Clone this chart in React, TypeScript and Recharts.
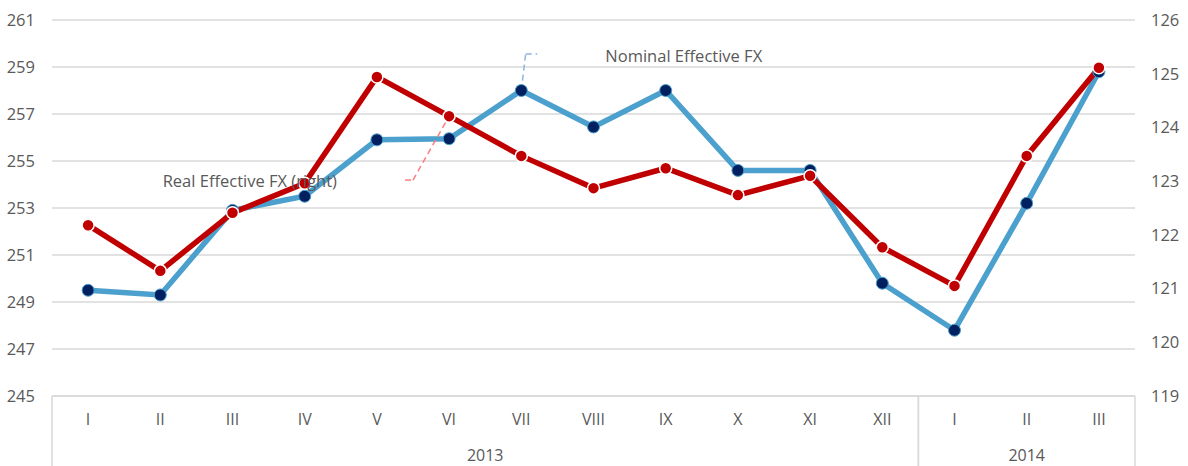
import React from "react";
import {
  LineChart,
  Line,
  XAxis,
  YAxis,
  CartesianGrid,
  ReferenceLine,
  ReferenceDot,
  Label,
} from "recharts";

const months = ["I", "II", "III", "IV", "V", "VI", "VII", "VIII", "IX", "X", "XI", "XII", "I", "II", "III"];
const years = ["2013", "2013", "2013", "2013", "2013", "2013", "2013", "2013", "2013", "2013", "2013", "2013", "2014", "2014", "2014"];
const nominalFx = [249.5, 249.3, 252.9, 253.5, 255.9, 255.95, 258.0, 256.45, 258.0, 254.6, 254.6, 249.8, 247.8, 253.2, 258.8];
const realFx = [122.18, 121.33, 122.41, 122.96, 124.94, 124.21, 123.47, 122.87, 123.24, 122.74, 123.1, 121.77, 121.05, 123.47, 125.11];
const leftTicks = [245, 247, 249, 251, 253, 255, 257, 259, 261];
const rightTicks = [119, 120, 121, 122, 123, 124, 125, 126];

const data = months.map((m, i) => ({
  key: `${years[i]}-${m}`,
  month: m,
  year: years[i],
  idx: i,
  nominal: nominalFx[i],
  real: realFx[i],
}));

const FONT = "'Open Sans', sans-serif";
const TEXT = "#595959";
const GRID = "#d9d9d9";
const BAND = (1135 - 52) / months.length;

const MonthTick = (props: any) => {
  const { x, y, index } = props;
  const i = index as number;
  const first = i === 0 || years[i] !== years[i - 1];
  const last = i === months.length - 1 || years[i] !== years[i + 1];
  // year label sits in the middle of its group
  const group = years.map((yy, k) => (yy === years[i] ? k : -1)).filter((k) => k >= 0);
  const mid = (group[0] + group[group.length - 1]) / 2;
  const showYear = i === Math.floor(mid);
  const yearX = x + (mid - i) * BAND;
  return (
    <g>
      <text x={x} y={y + 29} textAnchor="middle" fill={TEXT} fontSize={16} fontFamily={FONT}>
        {months[i]}
      </text>
      {first && <line x1={x - BAND / 2} x2={x - BAND / 2} y1={y} y2={y + 70} stroke={GRID} strokeWidth={1.5} />}
      {last && <line x1={x + BAND / 2} x2={x + BAND / 2} y1={y} y2={y + 70} stroke={GRID} strokeWidth={1.5} />}
      {showYear && (
        <text x={yearX} y={y + 65} textAnchor="middle" fill={TEXT} fontSize={16} fontFamily={FONT}>
          {years[i]}
        </text>
      )}
    </g>
  );
};

const App: React.FC = () => {
  return (
    <div style={{ position: "absolute", left: 0, top: 0, background: "#fff" }}>
      <LineChart width={1188} height={466} data={data} margin={{ top: 20, right: 0, left: 0, bottom: 0 }}>
        <CartesianGrid vertical={false} stroke={GRID} strokeWidth={1.5} yAxisId="left" />
        <XAxis
          dataKey="key"
          xAxisId="cat"
          height={70}
          interval={0}
          padding={{ left: BAND / 2, right: BAND / 2 }}
          tickLine={false}
          tickSize={0}
          tickMargin={0}
          axisLine={{ stroke: GRID, strokeWidth: 1.5 }}
          tick={<MonthTick />}
        />
        <XAxis dataKey="idx" xAxisId="num" type="number" domain={[-0.5, months.length - 0.5]} hide />
        <YAxis
          yAxisId="left"
          width={52}
          domain={[245, 261]}
          ticks={leftTicks}
          axisLine={false}
          tickLine={false}
          tickSize={0}
          tickMargin={17}
          tick={{ fill: TEXT, fontSize: 16.5, fontFamily: FONT }}
        />
        <YAxis
          yAxisId="right"
          orientation="right"
          width={53}
          domain={[119, 126]}
          ticks={rightTicks}
          axisLine={false}
          tickLine={false}
          tickSize={0}
          tickMargin={16}
          tick={{ fill: TEXT, fontSize: 16.5, fontFamily: FONT, textAnchor: "start" }}
        />
        <Line
          xAxisId="cat"
          yAxisId="left"
          dataKey="nominal"
          stroke="#4ba0cd"
          strokeWidth={5.5}
          dot={{ r: 6, fill: "#002060", stroke: "#4ba0cd", strokeWidth: 1 }}
          activeDot={false}
          isAnimationActive={false}
        />
        <Line
          xAxisId="cat"
          yAxisId="right"
          dataKey="real"
          stroke="#c00000"
          strokeWidth={5.5}
          dot={{ r: 6, fill: "#c00000", stroke: "#ffffff", strokeWidth: 1.5 }}
          activeDot={false}
          isAnimationActive={false}
        />
        {/* leader lines */}
        <ReferenceLine
          xAxisId="num"
          yAxisId="right"
          segment={[{ x: 4.39, y: 123.02 }, { x: 4.5, y: 123.02 }]}
          stroke="#ff7c80"
          strokeWidth={1.5}
          strokeDasharray="6 4"
        />
        <ReferenceLine
          xAxisId="num"
          yAxisId="right"
          segment={[{ x: 4.5, y: 123.02 }, { x: 5, y: 124.21 }]}
          stroke="#ff7c80"
          strokeWidth={1.5}
          strokeDasharray="6 4"
        />
        <ReferenceLine
          xAxisId="num"
          yAxisId="left"
          segment={[{ x: 6, y: 258.0 }, { x: 6.06, y: 259.55 }]}
          stroke="#8db4e2"
          strokeWidth={1.5}
          strokeDasharray="6 4"
        />
        <ReferenceLine
          xAxisId="num"
          yAxisId="left"
          segment={[{ x: 6.06, y: 259.55 }, { x: 6.22, y: 259.55 }]}
          stroke="#8db4e2"
          strokeWidth={1.5}
          strokeDasharray="6 4"
        />
        <ReferenceDot xAxisId="num" yAxisId="right" x={2.24} y={123.0} r={0} fill="none" stroke="none">
          <Label value="Real Effective FX (right)" position="center" fill={TEXT} fontSize={16.5} fontFamily={FONT} />
        </ReferenceDot>
        <ReferenceDot xAxisId="num" yAxisId="left" x={8.25} y={259.47} r={0} fill="none" stroke="none">
          <Label value="Nominal Effective FX" position="center" fill={TEXT} fontSize={16.5} fontFamily={FONT} />
        </ReferenceDot>
      </LineChart>
    </div>
  );
};

export default App;
